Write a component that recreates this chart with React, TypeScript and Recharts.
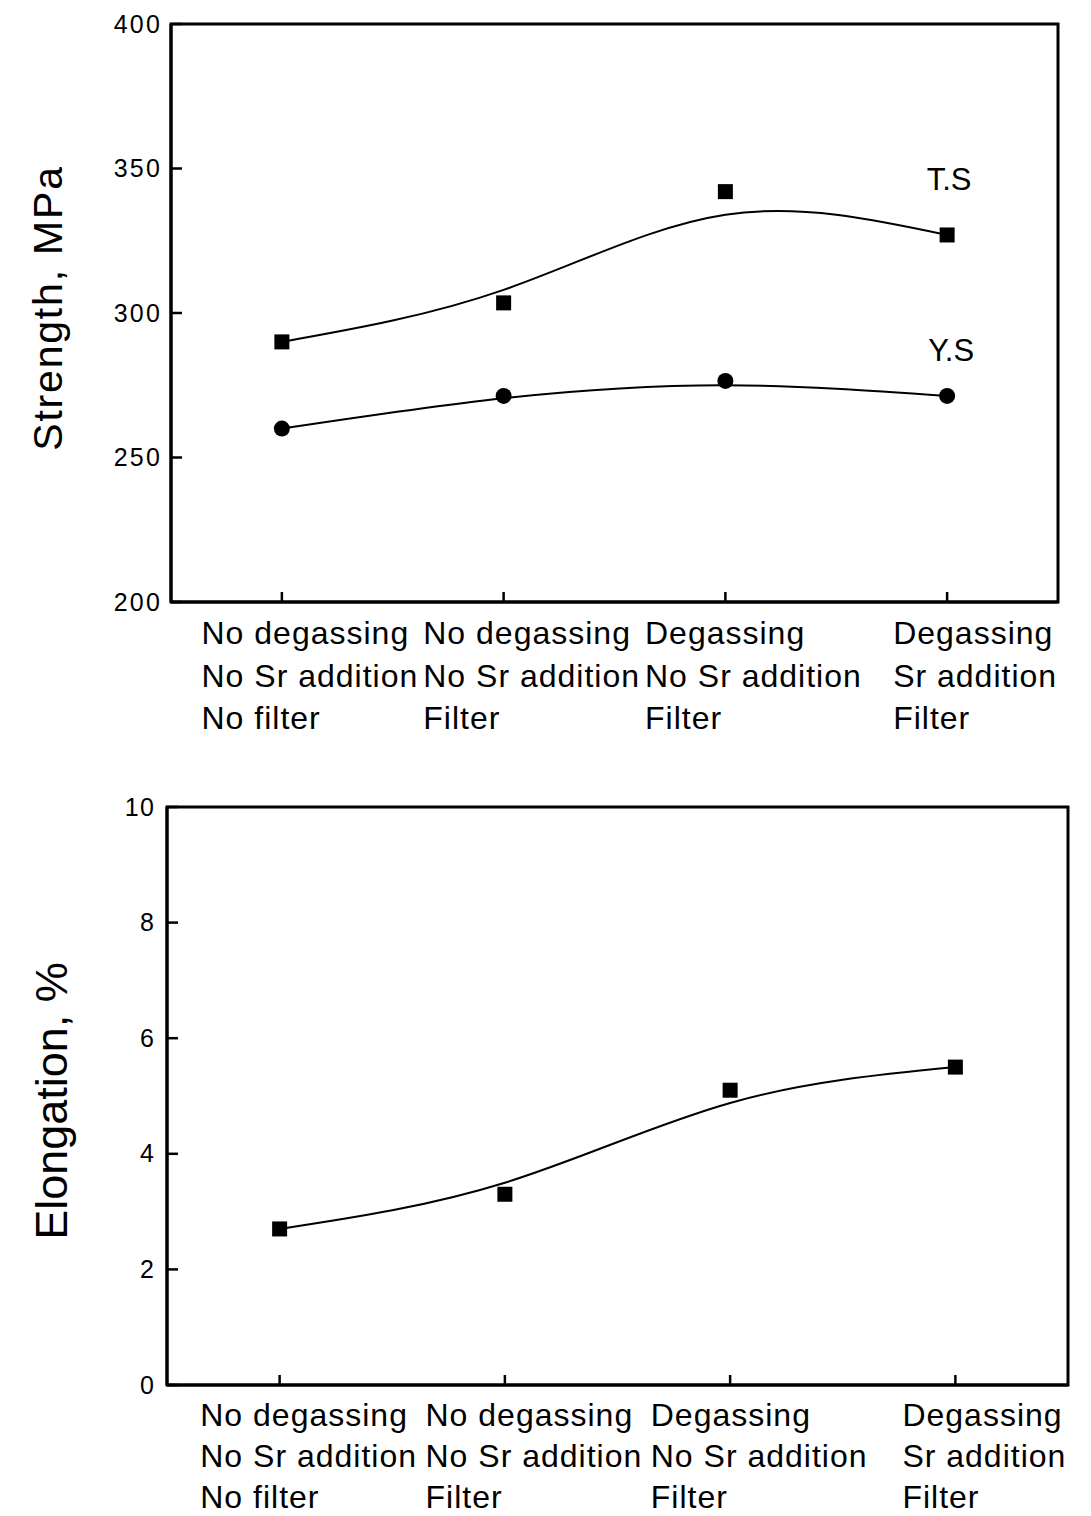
import React from "react";
import { ComposedChart, Line, XAxis, YAxis, ReferenceArea } from "recharts";

const categoryLabels: string[][] = [
  ["No degassing", "No Sr addition", "No filter"],
  ["No degassing", "No Sr addition", "Filter"],
  ["Degassing", "No Sr addition", "Filter"],
  ["Degassing", "Sr addition", "Filter"],
];
const xPositions = [1, 2, 3, 4];

const tsValues = [290, 303.5, 342, 327];
const tsFit = [290, 308, 334, 327];
const ysValues = [260, 271.3, 276.5, 271.3];
const ysFit = [260, 270.5, 275, 271.3];

const elongValues = [2.7, 3.3, 5.1, 5.5];
const elongFit = [2.7, 3.5, 4.88, 5.5];

const strengthTicks = [200, 250, 300, 350, 400];
const elongTicks = [0, 2, 4, 6, 8, 10];

const strengthData = xPositions.map((x, i) => ({
  x,
  ts: tsValues[i],
  tsFit: tsFit[i],
  ys: ysValues[i],
  ysFit: ysFit[i],
}));
const elongData = xPositions.map((x, i) => ({
  x,
  el: elongValues[i],
  elFit: elongFit[i],
}));

const FONT = '"Liberation Sans", Arial, Helvetica, sans-serif';

let measureCtx: CanvasRenderingContext2D | null = null;
function measure(s: string, size: number, spacing: number): number {
  if (!measureCtx) {
    const c = document.createElement("canvas");
    measureCtx = c.getContext("2d");
  }
  if (!measureCtx) return s.length * size * 0.55;
  measureCtx.font = `${size}px "Liberation Sans", Arial`;
  return measureCtx.measureText(s).width + spacing * s.length;
}

const makeXTick = (shift: number, first: number, step: number) => (props: any) => {
  const { x, y, payload } = props;
  const idx = Math.round(payload.value) - 1;
  const lines = categoryLabels[idx] || [];
  const size = 32;
  const spacing = 1;
  const w = Math.max(...lines.map((l) => measure(l, size, spacing)));
  const left = x + shift - w / 2;
  return (
    <g>
      <line x1={x} y1={y} x2={x} y2={y - 10} stroke="#000" strokeWidth={2.5} />
      {lines.map((l, i) => (
        <text
          key={i}
          x={left}
          y={y + first + i * step}
          fontSize={size}
          letterSpacing={spacing}
          fontFamily={FONT}
          fill="#000"
          textAnchor="start"
        >
          {l}
        </text>
      ))}
    </g>
  );
};

const makeYTick = (gap: number, spacing: number, size: number) => (props: any) => {
  const { x, y, payload } = props;
  return (
    <g>
      <line x1={x} y1={y} x2={x + 11} y2={y} stroke="#000" strokeWidth={2.5} />
      <text
        x={x - gap}
        y={y + 8.5}
        fontSize={size}
        letterSpacing={spacing}
        fontFamily={FONT}
        fill="#000"
        textAnchor="end"
      >
        {payload.value}
      </text>
    </g>
  );
};

const squareDot = (label?: string, dx = 0, dy = 0) => (props: any) => {
  const { cx, cy, index } = props;
  if (cx == null || cy == null) return <g key={index} />;
  return (
    <g key={index}>
      <rect x={cx - 7.5} y={cy - 7.5} width={15} height={15} fill="#000" />
      {label && index === 3 ? (
        <text
          x={cx + dx}
          y={cy + dy}
          fontSize={31}
          fontFamily={FONT}
          textAnchor="middle"
          fill="#000"
        >
          {label}
        </text>
      ) : null}
    </g>
  );
};

const circleDot = (label?: string, dx = 0, dy = 0) => (props: any) => {
  const { cx, cy, index } = props;
  if (cx == null || cy == null) return <g key={index} />;
  return (
    <g key={index}>
      <circle cx={cx} cy={cy} r={8} fill="#000" />
      {label && index === 3 ? (
        <text
          x={cx + dx}
          y={cy + dy}
          fontSize={31}
          fontFamily={FONT}
          textAnchor="middle"
          fill="#000"
        >
          {label}
        </text>
      ) : null}
    </g>
  );
};

const axisLabel = (text: string, baseX: number, size: number, spacing: number, shiftY: number) => (props: any) => {
  const vb = props.viewBox || {};
  const cy = (vb.y || 0) + (vb.height || 0) / 2 + shiftY;
  return (
    <text
      x={baseX}
      y={cy}
      transform={`rotate(-90, ${baseX}, ${cy})`}
      fontSize={size}
      letterSpacing={spacing}
      fontFamily={FONT}
      textAnchor="middle"
      fill="#000"
    >
      {text}
    </text>
  );
};

export default function App() {
  return (
    <div style={{ position: "absolute", left: 0, top: 0, width: 1091, height: 1516, background: "#fff" }}>
      <ComposedChart
        width={1091}
        height={780}
        data={strengthData}
        margin={{ top: 24, right: 33, left: 0, bottom: 28 }}
      >
        <XAxis
          dataKey="x"
          type="number"
          domain={[0.5, 4.5]}
          ticks={xPositions}
          height={150}
          tickSize={0}
          tickMargin={0}
          tickLine={false}
          axisLine={{ stroke: "#000", strokeWidth: 3 }}
          tick={makeXTick(28, 42, 42.5)}
          interval={0}
        />
        <YAxis
          type="number"
          domain={[200, 400]}
          ticks={strengthTicks}
          width={171}
          tickSize={0}
          tickMargin={0}
          tickLine={false}
          axisLine={{ stroke: "#000", strokeWidth: 3 }}
          tick={makeYTick(9, 2.2, 25)}
          interval={0}
          label={{ content: axisLabel("Strength, MPa", 62, 41, 1.8, -5) } as any}
        />
        <ReferenceArea x1={0.5} x2={4.5} y1={200} y2={400} fill="none" stroke="#000" strokeWidth={3} ifOverflow="visible" />
        <Line type="natural" dataKey="tsFit" stroke="#000" strokeWidth={2} dot={false} isAnimationActive={false} />
        <Line type="natural" dataKey="ysFit" stroke="#000" strokeWidth={2} dot={false} isAnimationActive={false} />
        <Line dataKey="ts" stroke="none" dot={squareDot("T.S", 2, -45)} activeDot={false} isAnimationActive={false} />
        <Line dataKey="ys" stroke="none" dot={circleDot("Y.S", 4, -35)} activeDot={false} isAnimationActive={false} />
      </ComposedChart>
      <ComposedChart
        width={1091}
        height={736}
        data={elongData}
        margin={{ top: 27, right: 23, left: 0, bottom: 0 }}
      >
        <XAxis
          dataKey="x"
          type="number"
          domain={[0.5, 4.5]}
          ticks={xPositions}
          height={131}
          tickSize={0}
          tickMargin={0}
          tickLine={false}
          axisLine={{ stroke: "#000", strokeWidth: 3 }}
          tick={makeXTick(29, 41, 41)}
          interval={0}
        />
        <YAxis
          type="number"
          domain={[0, 10]}
          ticks={elongTicks}
          width={167}
          tickSize={0}
          tickMargin={0}
          tickLine={false}
          axisLine={{ stroke: "#000", strokeWidth: 3 }}
          tick={makeYTick(12, 1.2, 25)}
          interval={0}
          label={{ content: axisLabel("Elongation, %", 67, 45, 0, 5) } as any}
        />
        <ReferenceArea x1={0.5} x2={4.5} y1={0} y2={10} fill="none" stroke="#000" strokeWidth={3} ifOverflow="visible" />
        <Line type="natural" dataKey="elFit" stroke="#000" strokeWidth={2} dot={false} isAnimationActive={false} />
        <Line dataKey="el" stroke="none" dot={squareDot()} activeDot={false} isAnimationActive={false} />
      </ComposedChart>
    </div>
  );
}
